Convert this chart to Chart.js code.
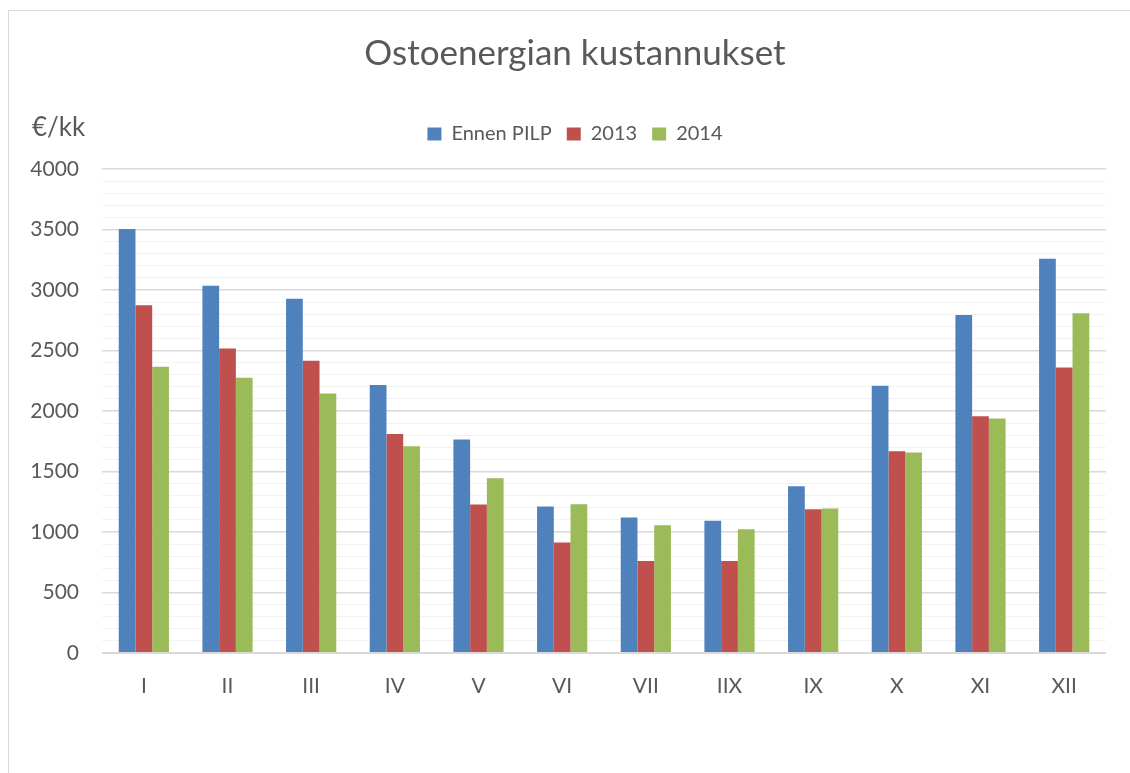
<!DOCTYPE html>
<html>
<head>
<meta charset="utf-8">
<title>Ostoenergian kustannukset</title>
<script src="https://cdn.jsdelivr.net/npm/chart.js@4.4.1/dist/chart.umd.min.js"></script>
<style>
  html, body { margin: 0; padding: 0; background: #fff; overflow: hidden; }
  #frame { position: absolute; left: 8px; top: 10px; border-left: 1px solid #d9d9d9; border-top: 1px solid #d9d9d9; }
  #frame canvas { display: block; }
</style>
</head>
<body>
<div id="frame">
  <canvas id="energyChart" width="1132" height="770"></canvas>
</div>
<script>
// kuukaudet
var months = ['I', 'II', 'III', 'IV', 'V', 'VI', 'VII', 'IIX', 'IX', 'X', 'XI', 'XII'];
var seriesNames = ['Ennen PILP', '2013', '2014'];

// €/kk, luettu kuvasta
var ennenPilp = [3504, 3035, 2928, 2214, 1764, 1210, 1119, 1092, 1379, 2208, 2793, 3259];
var costs2013 = [2873, 2517, 2415, 1809, 1227, 913, 761, 761, 1188, 1668, 1957, 2360];
var costs2014 = [2365, 2274, 2145, 1709, 1445, 1230, 1056, 1023, 1194, 1657, 1938, 2807];

var yTicks = [0, 500, 1000, 1500, 2000, 2500, 3000, 3500, 4000];

var barColors = ['#4f81bd', '#c0504d', '#9bbb59'];
var textColor = '#595959';

Chart.defaults.font.family = 'Lato';
Chart.defaults.color = textColor;

// y-akselin otsikko vasempaan yläkulmaan
var unitLabel = {
  id: 'unitLabel',
  afterDraw: function (chart) {
    var ctx = chart.ctx;
    ctx.save();
    ctx.font = '26px Lato';
    ctx.fillStyle = textColor;
    ctx.textBaseline = 'alphabetic';
    ctx.fillText('€/kk', 23, 125);
    ctx.restore();
  }
};

// lisää tilaa selitteen alle
var legendGap = {
  id: 'legendGap',
  beforeInit: function (chart) {
    var fit = chart.legend.fit;
    chart.legend.fit = function () {
      fit.bind(chart.legend)();
      this.height += 15;
    };
  }
};

new Chart('energyChart', {
  type: 'bar',
  data: {
    labels: months,
    datasets: [
      { label: seriesNames[0], data: ennenPilp, backgroundColor: barColors[0] },
      { label: seriesNames[1], data: costs2013, backgroundColor: barColors[1] },
      { label: seriesNames[2], data: costs2014, backgroundColor: barColors[2] }
    ]
  },
  options: {
    responsive: false,
    animation: false,
    devicePixelRatio: 1,
    layout: { padding: { left: 0, right: 0, top: 0, bottom: 68 } },
    datasets: { bar: { categoryPercentage: 0.6, barPercentage: 1, borderWidth: 0 } },
    plugins: {
      title: {
        display: true,
        text: 'Ostoenergian kustannukset',
        color: textColor,
        font: { size: 35, weight: 'normal' },
        padding: { top: 22, bottom: 34 }
      },
      legend: {
        position: 'top',
        labels: { boxWidth: 14, boxHeight: 13, padding: 15, font: { size: 20 }, color: textColor }
      },
      tooltip: { enabled: false }
    },
    scales: {
      x: {
        grid: { display: false },
        border: { display: false },
        ticks: { font: { size: 21 }, padding: 13 },
        afterFit: function (scale) { scale.height = 60; }
      },
      y: {
        min: 0,
        max: 4000,
        border: { display: false },
        grid: {
          drawTicks: false,
          color: function (c) { return c.tick.value % 500 === 0 ? '#d9d9d9' : '#f2f2f2'; },
          lineWidth: function (c) { return c.tick.value === 0 ? 2 : (c.tick.value % 500 === 0 ? 1.5 : 1); }
        },
        ticks: {
          stepSize: 100,
          autoSkip: false,
          padding: 23,
          font: { size: 21 },
          callback: function (v) { return yTicks.indexOf(v) >= 0 ? v : ''; }
        },
        afterFit: function (scale) { scale.width = 93; }
      },
      // tyhjä oikea akseli, jotta otsikko keskittyy kehykseen
      yRight: {
        position: 'right',
        min: 0,
        max: 4000,
        grid: { display: false },
        border: { display: false },
        ticks: { display: false },
        afterFit: function (scale) { scale.width = 35; }
      }
    }
  },
  plugins: [unitLabel, legendGap]
});
</script>
</body>
</html>
